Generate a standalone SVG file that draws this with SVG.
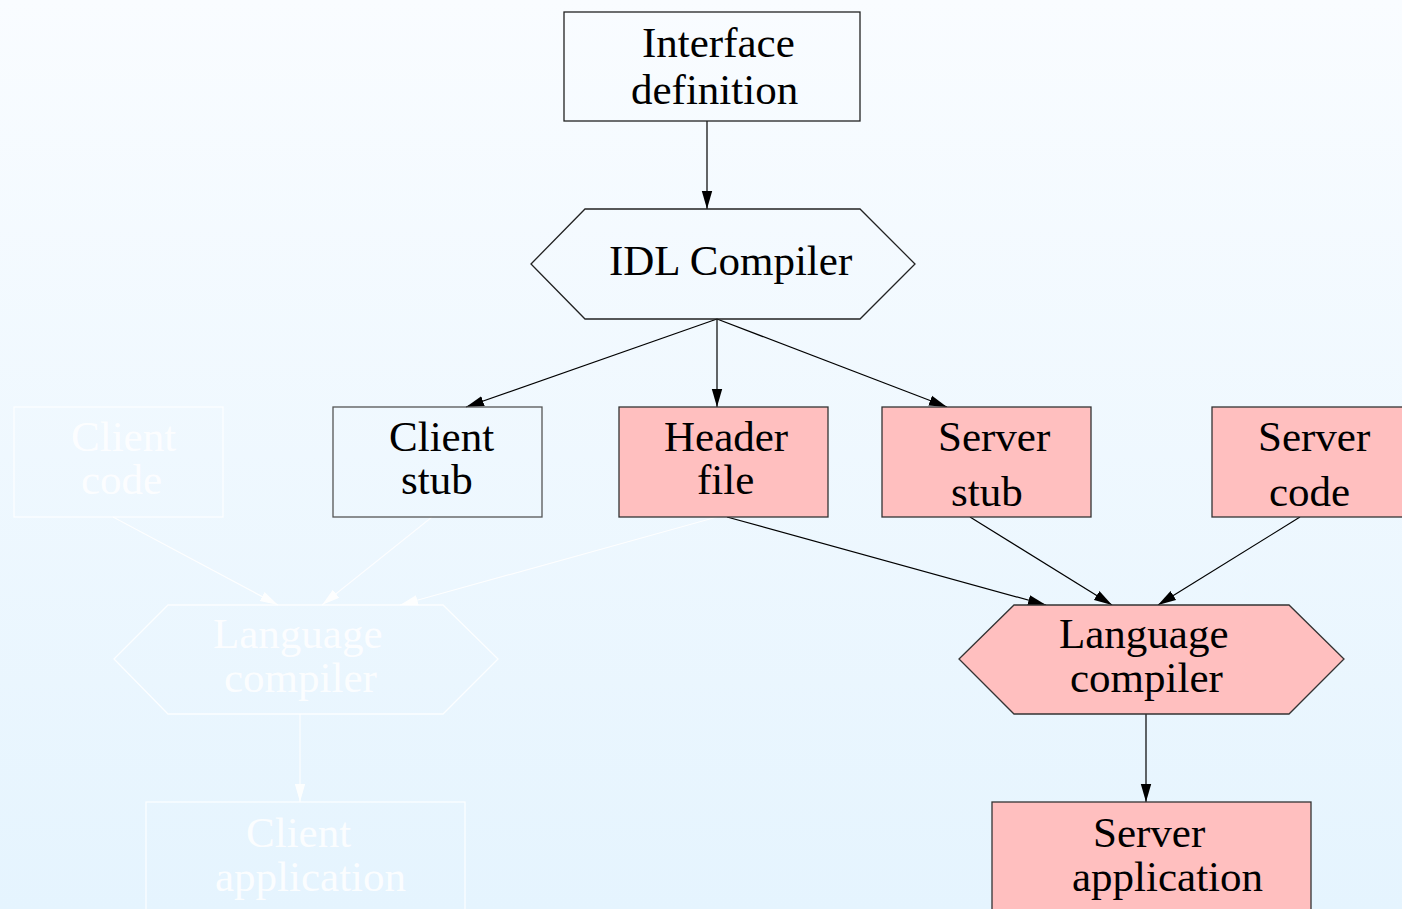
<svg xmlns="http://www.w3.org/2000/svg" width="1402" height="909" viewBox="0 0 1402 909">
<defs>
<linearGradient id="bg" x1="0" y1="0" x2="0" y2="1">
<stop offset="0" stop-color="#f9fcff"/>
<stop offset="1" stop-color="#e5f4fe"/>
</linearGradient>
<marker id="ah" viewBox="0 0 18 12" refX="18" refY="6" markerWidth="18" markerHeight="12" markerUnits="userSpaceOnUse" orient="auto">
<path d="M0,0.8 L18,6 L0,11.2 Z" fill="#000"/>
</marker>
<marker id="ahw" viewBox="0 0 18 12" refX="18" refY="6" markerWidth="18" markerHeight="12" markerUnits="userSpaceOnUse" orient="auto">
<path d="M0,0.8 L18,6 L0,11.2 Z" fill="#fff"/>
</marker>
</defs>
<style>
text{font-family:"Liberation Serif","Tinos","Times New Roman","DejaVu Serif",serif;font-size:43px;fill:#000}
.n{fill:none;stroke:#222;stroke-width:1.3}
.p{fill:#ffbfbf;stroke:#333;stroke-width:1.3}
.f{fill:none;stroke:#fff;stroke-width:1.3;opacity:0.85}
.ft{fill:#fff;opacity:0.85}
.e{stroke:#000;stroke-width:1.2;fill:none;marker-end:url(#ah)}
.ew{stroke:#fff;stroke-width:1.2;fill:none;marker-end:url(#ahw);opacity:0.9}
</style>
<rect width="1402" height="909" fill="url(#bg)"/>
<g id="connectors">
<line class="e" x1="707" y1="121" x2="707" y2="209"/>
<line class="e" x1="717" y1="319" x2="466" y2="407"/>
<line class="e" x1="717" y1="319" x2="717" y2="407"/>
<line class="e" x1="717" y1="319" x2="947" y2="407"/>
<line class="e" x1="727" y1="517" x2="1046" y2="605"/>
<line class="e" x1="970" y1="517" x2="1112" y2="605"/>
<line class="e" x1="1300" y1="517" x2="1158" y2="605"/>
<line class="e" x1="1146" y1="714" x2="1146" y2="802"/>
<line class="ew" x1="113" y1="517" x2="278" y2="605"/>
<line class="ew" x1="432" y1="517" x2="322" y2="605"/>
<line class="ew" x1="717" y1="517" x2="400" y2="605"/>
<line class="ew" x1="300" y1="714" x2="300" y2="802"/>
</g>
<g id="interface-definition">
<rect class="n" x="564" y="12" width="296" height="109"/>
<text x="642" y="57">Interface</text>
<text x="631" y="104">definition</text>
</g>
<g id="idl-compiler">
<polygon class="n" points="531,264 585,209 860,209 915,264 860,319 585,319"/>
<text x="609" y="275">IDL Compiler</text>
</g>
<g id="client-code">
<rect class="f" x="14" y="407" width="209" height="110"/>
<text class="ft" x="71" y="451">Client</text>
<text class="ft" x="81" y="494">code</text>
</g>
<g id="client-stub">
<rect class="n" x="333" y="407" width="209" height="110" style="stroke:#555"/>
<text x="389" y="451">Client</text>
<text x="401" y="494">stub</text>
</g>
<g id="header-file">
<rect class="p" x="619" y="407" width="209" height="110"/>
<text x="664" y="451">Header</text>
<text x="697" y="494">file</text>
</g>
<g id="server-stub">
<rect class="p" x="882" y="407" width="209" height="110"/>
<text x="938" y="451">Server</text>
<text x="951" y="506">stub</text>
</g>
<g id="server-code">
<rect class="p" x="1212" y="407" width="209" height="110"/>
<text x="1258" y="451">Server</text>
<text x="1269" y="506">code</text>
</g>
<g id="client-language-compiler">
<polygon class="f" points="114,659 168,605 443,605 498,659 443,714 168,714"/>
<text class="ft" x="213" y="648">Language</text>
<text class="ft" x="224" y="692">compiler</text>
</g>
<g id="server-language-compiler">
<polygon class="p" points="959,659 1014,605 1289,605 1344,659 1289,714 1014,714"/>
<text x="1059" y="648">Language</text>
<text x="1070" y="692">compiler</text>
</g>
<g id="client-application">
<rect class="f" x="146" y="802" width="319" height="130"/>
<text class="ft" x="246" y="847">Client</text>
<text class="ft" x="215" y="891">application</text>
</g>
<g id="server-application">
<rect class="p" x="992" y="802" width="319" height="130"/>
<text x="1093" y="847">Server</text>
<text x="1072" y="891">application</text>
</g>
</svg>
